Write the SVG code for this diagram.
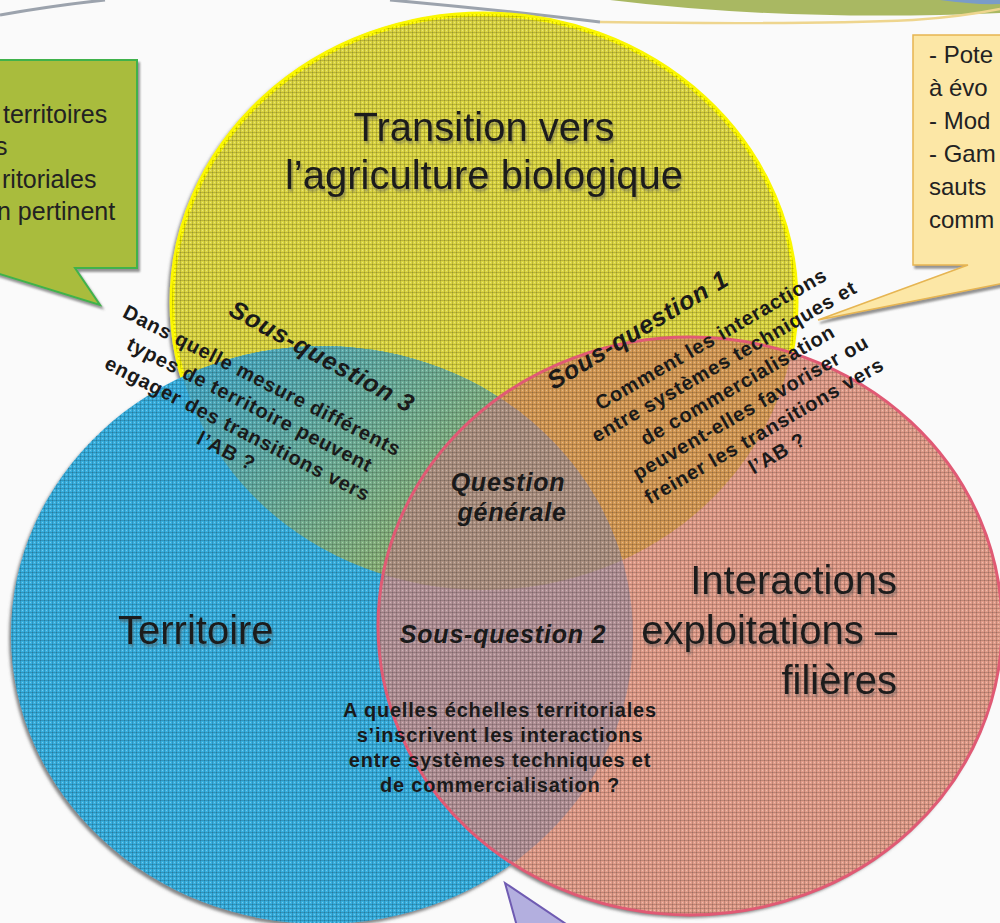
<svg xmlns="http://www.w3.org/2000/svg" width="1000" height="923" viewBox="0 0 1000 923">
  <defs>
    <style>
      .big{font-family:"Liberation Sans",Arial,sans-serif;font-size:40px;fill:#1c1c1c;filter:url(#tshadow)}
      .q{font-family:"Liberation Sans",Arial,sans-serif;font-weight:bold;font-style:italic;font-size:25px;letter-spacing:0.8px;fill:#1a1a1a;text-anchor:middle}
      .body{font-family:"Liberation Sans",Arial,sans-serif;font-weight:bold;font-size:20px;letter-spacing:0.8px;fill:#1a1a1a;text-anchor:middle}
      .note{font-family:"Liberation Sans",Arial,sans-serif;font-size:25px;fill:#222}
      .note-r{font-family:"Liberation Sans",Arial,sans-serif;font-size:24px;fill:#222}
    </style>
    <clipPath id="cY"><ellipse cx="484" cy="302" rx="312" ry="288"/></clipPath>
    <clipPath id="cB"><ellipse cx="322" cy="635" rx="311" ry="289"/></clipPath>
    <clipPath id="cR"><ellipse cx="690" cy="626" rx="312" ry="289"/></clipPath>
    <clipPath id="cU">
      <ellipse cx="484" cy="302" rx="312" ry="288"/>
      <ellipse cx="322" cy="635" rx="311" ry="289"/>
      <ellipse cx="690" cy="626" rx="312" ry="289"/>
    </clipPath>
    <pattern id="grid" width="4" height="4" patternUnits="userSpaceOnUse">
      <path d="M0,0.5H4M0.5,0V4" stroke="#000" stroke-opacity="0.16" stroke-width="1"/>
      <rect x="2" y="2" width="1" height="1" fill="#fff" fill-opacity="0.3"/>
    </pattern>
    <linearGradient id="gYB" gradientUnits="userSpaceOnUse" x1="230" y1="360" x2="430" y2="560">
      <stop offset="0" stop-color="#4aaac2"/>
      <stop offset="1" stop-color="#92b470"/>
    </linearGradient>
    <filter id="shadow" x="-5%" y="-5%" width="110%" height="110%">
      <feDropShadow dx="-2" dy="3" stdDeviation="1.5" flood-color="#555" flood-opacity="0.7"/>
    </filter>
    <filter id="cshadow" x="-10%" y="-10%" width="120%" height="130%">
      <feDropShadow dx="2" dy="3" stdDeviation="1" flood-color="#666" flood-opacity="0.7"/>
    </filter>
    <filter id="tshadow" x="-5%" y="-20%" width="110%" height="150%">
      <feDropShadow dx="1.5" dy="3" stdDeviation="1" flood-color="#555" flood-opacity="0.45"/>
    </filter>
  </defs>

  <rect width="1000" height="923" fill="#fafafa"/>

  <!-- banner strokes along the top edge -->
  <g id="banner">
    <path d="M610,0 Q790,22 1000,13 L1000,0 Z" fill="#a9b862"/>
    <path d="M940,0 Q975,5 1000,4 L1000,0 Z" fill="#7a9cc8"/>
    <path d="M0,15 Q50,6 105,0" fill="none" stroke="#9ca3ad" stroke-width="3"/>
    <path d="M390,0 Q500,10 600,22" fill="none" stroke="#9ca3ad" stroke-width="3"/>
    <path d="M600,22 Q800,25 913,20 Q960,17 1000,9" fill="none" stroke="#eed58e" stroke-width="2.5"/>
  </g>

  <!-- side callouts -->
  <g id="callout-left" filter="url(#cshadow)">
    <path d="M-20,60 H137 V268 H75 L100,305 L-20,268 Z" fill="#a9bc3d" stroke="#3fb24c" stroke-width="2"/>
  </g>
  <g id="callout-left-text" class="note">
    <text x="3" y="123">territoires</text>
    <text x="-5" y="155">s</text>
    <text x="2" y="188">ritoriales</text>
    <text x="-3" y="220">n pertinent</text>
  </g>

  <g id="callout-right" filter="url(#cshadow)">
    <path d="M913,35 H1010 V282 L818,320 L968,265 H913 Z" fill="#fce7a6" stroke="#e6b552" stroke-width="1.5"/>
  </g>
  <g id="callout-right-text" class="note-r">
    <text x="929" y="63">- Pote</text>
    <text x="929" y="96">à évo</text>
    <text x="929" y="129">- Mod</text>
    <text x="929" y="162">- Gam</text>
    <text x="929" y="195">sauts</text>
    <text x="929" y="228">comm</text>
  </g>

  <g id="callout-bottom">
    <path d="M505,883 L518,930 L575,930 Z" fill="#b3afdf" stroke="#6f5bb2" stroke-width="2"/>
  </g>

  <!-- three overlapping sets -->
  <g id="sets" filter="url(#shadow)">
    <g id="node-transition">
      <ellipse cx="484" cy="302" rx="312" ry="288" fill="#dcd642" stroke="#fbf700" stroke-width="5"/>
    </g>
    <g id="node-territoire">
      <ellipse cx="322" cy="635" rx="311" ry="289" fill="#38b0e0"/>
    </g>
    <g id="overlap-transition-territoire" clip-path="url(#cY)">
      <ellipse cx="322" cy="635" rx="311" ry="289" fill="url(#gYB)"/>
    </g>
    <g id="node-interactions">
      <ellipse cx="690" cy="626" rx="312" ry="289" fill="#e29d8a"/>
    </g>
    <g id="overlap-transition-interactions" clip-path="url(#cY)">
      <ellipse cx="690" cy="626" rx="312" ry="289" fill="#d69b56"/>
    </g>
    <g id="overlap-territoire-interactions" clip-path="url(#cB)">
      <ellipse cx="690" cy="626" rx="312" ry="289" fill="#b49398"/>
    </g>
    <g id="overlap-centre" clip-path="url(#cY)">
      <g clip-path="url(#cB)">
        <ellipse cx="690" cy="626" rx="312" ry="289" fill="#ae9282"/>
      </g>
    </g>
  </g>
  <rect id="texture" width="1000" height="923" fill="url(#grid)" clip-path="url(#cU)"/>
  <ellipse id="interactions-outline" cx="690" cy="626" rx="312" ry="289" fill="none" stroke="#e05a74" stroke-width="3"/>

  <!-- set labels -->
  <g id="labels-sets" class="big">
    <text x="484" y="141" text-anchor="middle">Transition vers</text>
    <text x="484" y="189" text-anchor="middle">l’agriculture biologique</text>
    <text x="118" y="644">Territoire</text>
    <text x="897" y="594" text-anchor="end">Interactions</text>
    <text x="897" y="644" text-anchor="end">exploitations –</text>
    <text x="897" y="694" text-anchor="end">filières</text>
  </g>

  <!-- questions -->
  <g id="question-generale">
    <text class="q" x="508" y="491">Question</text>
    <text class="q" x="512" y="521">générale</text>
  </g>

  <g id="sous-question-2">
    <text class="q" x="503" y="643">Sous-question 2</text>
    <g class="body">
      <text x="500" y="717">A quelles échelles territoriales</text>
      <text x="500" y="742">s’inscrivent les interactions</text>
      <text x="500" y="767">entre systèmes techniques et</text>
      <text x="500" y="792">de commercialisation ?</text>
    </g>
  </g>

  <g id="sous-question-3">
    <text class="q" transform="translate(318,364) rotate(28.6)">Sous-question 3</text>
    <g class="body" transform="translate(244,416) rotate(27)">
      <text x="0" y="-33">Dans quelle mesure différents</text>
      <text x="0" y="-6">types de territoire peuvent</text>
      <text x="0" y="21">engager des transitions vers</text>
      <text x="0" y="46">l’AB ?</text>
    </g>
  </g>

  <g id="sous-question-1">
    <text class="q" transform="translate(642,337) rotate(-31)">Sous-question 1</text>
    <g class="body" transform="translate(744,396) rotate(-30)">
      <text x="0" y="-59">Comment les interactions</text>
      <text x="0" y="-33">entre systèmes techniques et</text>
      <text x="0" y="-6">de commercialisation</text>
      <text x="0" y="20">peuvent-elles favoriser ou</text>
      <text x="0" y="47">freiner les transitions vers</text>
      <text x="0" y="73">l’AB ?</text>
    </g>
  </g>
</svg>
